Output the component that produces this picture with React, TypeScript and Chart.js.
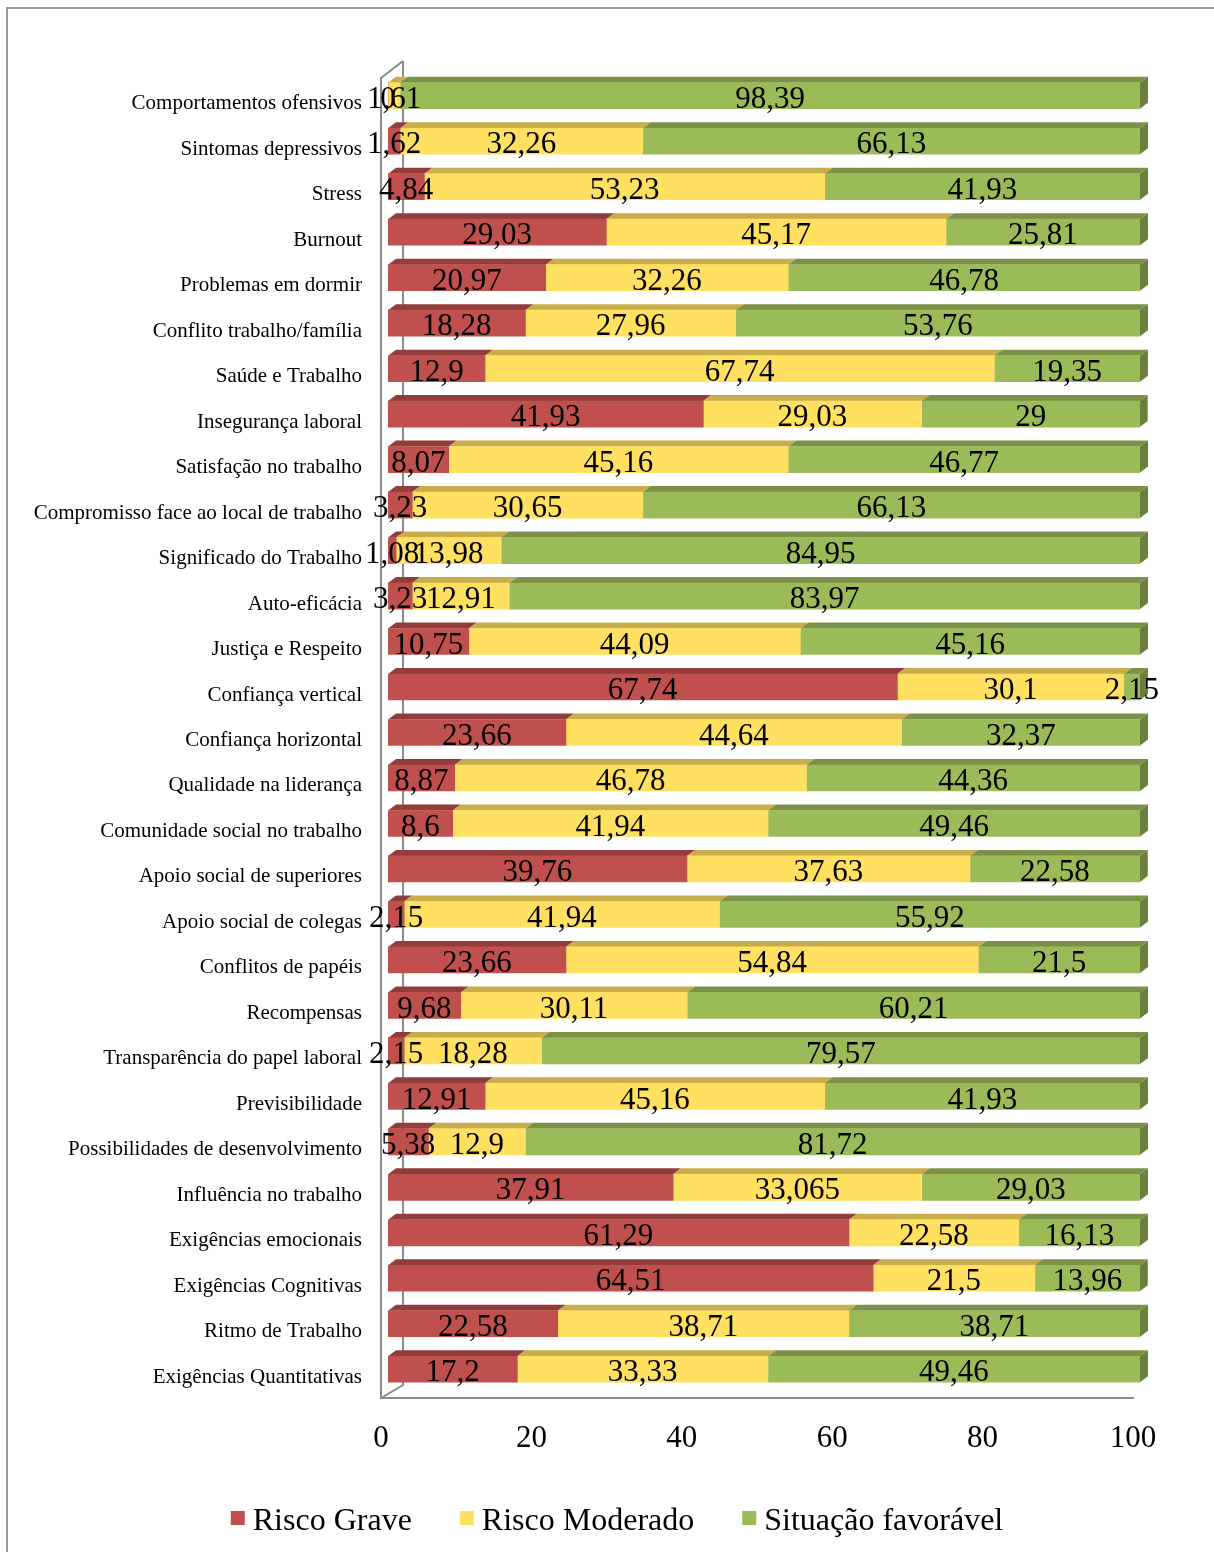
import React, { useEffect, useRef } from 'react';
import { Chart, registerables } from 'chart.js';

Chart.register(...registerables);

const categories = [
  'Comportamentos ofensivos',
  'Sintomas depressivos',
  'Stress',
  'Burnout',
  'Problemas em dormir',
  'Conflito trabalho/família',
  'Saúde e Trabalho',
  'Insegurança laboral',
  'Satisfação no trabalho',
  'Compromisso face ao local de trabalho',
  'Significado do Trabalho',
  'Auto-eficácia',
  'Justiça e Respeito',
  'Confiança vertical',
  'Confiança horizontal',
  'Qualidade na liderança',
  'Comunidade social no trabalho',
  'Apoio social de superiores',
  'Apoio social de colegas',
  'Conflitos de papéis',
  'Recompensas',
  'Transparência do papel laboral',
  'Previsibilidade',
  'Possibilidades de desenvolvimento',
  'Influência no trabalho',
  'Exigências emocionais',
  'Exigências Cognitivas',
  'Ritmo de Trabalho',
  'Exigências Quantitativas',
];

const riscoGrave = [0, 1.62, 4.84, 29.03, 20.97, 18.28, 12.9, 41.93, 8.07, 3.23, 1.08, 3.23, 10.75, 67.74, 23.66, 8.87, 8.6, 39.76, 2.15, 23.66, 9.68, 2.15, 12.91, 5.38, 37.91, 61.29, 64.51, 22.58, 17.2];
const riscoModerado = [1.61, 32.26, 53.23, 45.17, 32.26, 27.96, 67.74, 29.03, 45.16, 30.65, 13.98, 12.91, 44.09, 30.1, 44.64, 46.78, 41.94, 37.63, 41.94, 54.84, 30.11, 18.28, 45.16, 12.9, 33.065, 22.58, 21.5, 38.71, 33.33];
const situacaoFavoravel = [98.39, 66.13, 41.93, 25.81, 46.78, 53.76, 19.35, 29, 46.77, 66.13, 84.95, 83.97, 45.16, 2.15, 32.37, 44.36, 49.46, 22.58, 55.92, 21.5, 60.21, 79.57, 41.93, 81.72, 29.03, 16.13, 13.96, 38.71, 49.46];

const seriesNames = ['Risco Grave', 'Risco Moderado', 'Situação favorável'];
const xTickValues = [0, 20, 40, 60, 80, 100];

const FRONT = ['#C0504D', '#FFE060', '#9BBB59'];
const TOPC = ['#923D3B', '#C9AD4B', '#7B9147'];
const SIDEC = ['#7E3432', '#B0973F', '#6B7F3D'];
const FONT = "'Times New Roman', 'Liberation Serif', serif";
const GRAY = '#8C8C8C';

const fmt = (v: number) => String(v).replace('.', ',');

const depthPlugin = {
  id: 'depth3d',
  beforeDatasetsDraw(chart: any) {
    const ctx = chart.ctx;
    const xs = chart.scales.x;
    const area = chart.chartArea;
    ctx.save();
    // outer frame
    ctx.strokeStyle = '#9A9A9A';
    ctx.lineWidth = 2;
    ctx.beginPath();
    ctx.moveTo(7, 1552);
    ctx.lineTo(7, 8);
    ctx.lineTo(1214, 8);
    ctx.stroke();
    // walls
    const x0 = xs.getPixelForValue(0);
    const x100 = xs.getPixelForValue(100);
    ctx.strokeStyle = GRAY;
    ctx.lineWidth = 2;
    ctx.beginPath();
    ctx.moveTo(x0 + 15, area.top - 12);
    ctx.lineTo(x0 + 15, area.bottom - 7);
    ctx.lineTo(x0 - 7, area.bottom + 6);
    ctx.lineTo(x0 - 7, area.top + 5);
    ctx.lineTo(x0 + 15, area.top - 12);
    ctx.stroke();
    ctx.beginPath();
    ctx.moveTo(x0 - 7, area.bottom + 6);
    ctx.lineTo(x100 - 6, area.bottom + 6);
    ctx.stroke();

    const dx = 8;
    const dy = 6;
    const n = chart.data.datasets.length;
    for (let i = 0; i < n; i++) {
      const meta = chart.getDatasetMeta(i);
      meta.data.forEach((el: any) => {
        const p = el.getProps(['x', 'base', 'y', 'height'], true);
        const l = Math.min(p.x, p.base);
        const r = Math.min(Math.max(p.x, p.base), area.right);
        const top = p.y - p.height / 2;
        const bot = p.y + p.height / 2;
        ctx.fillStyle = TOPC[i];
        ctx.beginPath();
        ctx.moveTo(l, top);
        ctx.lineTo(r, top);
        ctx.lineTo(r + dx, top - dy);
        ctx.lineTo(l + dx, top - dy);
        ctx.closePath();
        ctx.fill();
        if (i === n - 1) {
          ctx.fillStyle = SIDEC[i];
          ctx.beginPath();
          ctx.moveTo(r, top);
          ctx.lineTo(r + dx, top - dy);
          ctx.lineTo(r + dx, bot - dy);
          ctx.lineTo(r, bot);
          ctx.closePath();
          ctx.fill();
        }
      });
    }
    ctx.restore();
  },
  afterDatasetsDraw(chart: any) {
    const ctx = chart.ctx;
    const area = chart.chartArea;
    ctx.save();
    ctx.fillStyle = '#000';
    ctx.font = `31px ${FONT}`;
    ctx.textAlign = 'center';
    ctx.textBaseline = 'middle';
    chart.data.datasets.forEach((ds: any, i: number) => {
      const meta = chart.getDatasetMeta(i);
      meta.data.forEach((el: any, j: number) => {
        const p = el.getProps(['x', 'base', 'y'], true);
        const r = Math.min(p.x, area.right);
        ctx.fillText(fmt(ds.data[j]), (r + p.base) / 2, p.y + 4);
      });
    });
    // legend
    ctx.font = `32px ${FONT}`;
    const items = chart.data.datasets.map((ds: any) => ({
      label: ds.label,
      color: ds.backgroundColor,
      w: ctx.measureText(ds.label).width,
    }));
    const box = 14;
    const gapBoxText = 8;
    const gapItems = 48;
    const total = items.reduce((s: number, it: any) => s + box + gapBoxText + it.w, 0) + gapItems * (items.length - 1);
    let x = 617 - total / 2;
    ctx.textAlign = 'left';
    ctx.textBaseline = 'alphabetic';
    items.forEach((it: any) => {
      ctx.fillStyle = it.color;
      ctx.fillRect(x, 1511, box, box);
      ctx.fillStyle = '#000';
      ctx.fillText(it.label, x + box + gapBoxText, 1530);
      x += box + gapBoxText + it.w + gapItems;
    });
    ctx.restore();
  },
};

export default function App() {
  const ref = useRef<HTMLCanvasElement>(null);
  useEffect(() => {
    if (!ref.current) return;
    const chart = new Chart(ref.current, {
      type: 'bar',
      data: {
        labels: categories,
        datasets: [
          { label: seriesNames[0], data: riscoGrave, backgroundColor: FRONT[0] },
          { label: seriesNames[1], data: riscoModerado, backgroundColor: FRONT[1] },
          { label: seriesNames[2], data: situacaoFavoravel, backgroundColor: FRONT[2] },
        ],
      },
      options: {
        indexAxis: 'y',
        responsive: false,
        animation: false,
        layout: { padding: { left: 0, top: 73, right: 74, bottom: 80 } },
        datasets: { bar: { barThickness: 26 } },
        plugins: { legend: { display: false }, tooltip: { enabled: false } },
        scales: {
          x: {
            type: 'linear',
            stacked: true,
            min: 0,
            max: 100,
            afterFit: (s: any) => { s.height = 80; },
            afterBuildTicks: (s: any) => { s.ticks = xTickValues.map((v) => ({ value: v })); },
            grid: { display: false, drawTicks: false },
            border: { display: false },
            ticks: {
              padding: 28,
              labelOffset: -7,
              color: '#000',
              font: { family: FONT, size: 31 },
            },
          },
          y: {
            type: 'category',
            stacked: true,
            afterFit: (s: any) => { s.width = 388; },
            grid: { display: false, drawTicks: false },
            border: { display: false },
            ticks: {
              padding: 26,
              labelOffset: 8,
              color: '#000',
              autoSkip: false,
              font: { family: FONT, size: 21 },
            },
          },
        },
      },
      plugins: [depthPlugin],
    });
    return () => chart.destroy();
  }, []);
  return (
    <div style={{ position: 'absolute', left: 0, top: 0, width: 1214, height: 1552, background: '#fff' }}>
      <canvas ref={ref} width={1214} height={1552} style={{ display: 'block' }} />
    </div>
  );
}
